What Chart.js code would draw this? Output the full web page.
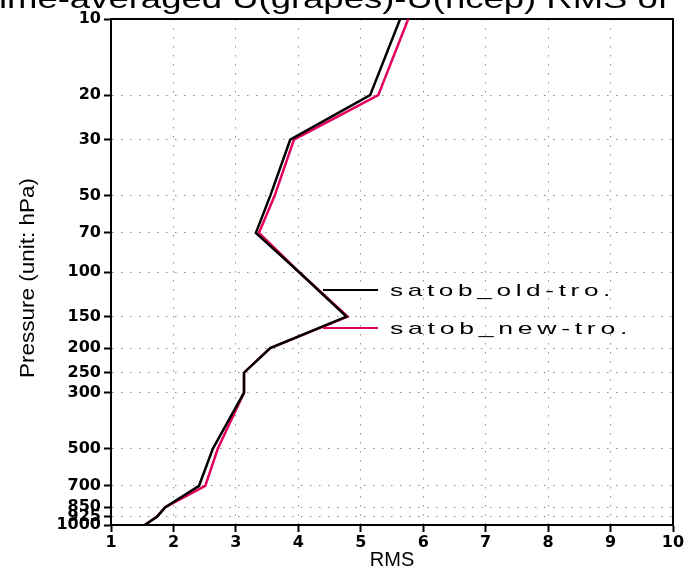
<!DOCTYPE html>
<html>
<head>
<meta charset="utf-8">
<script src="https://cdn.jsdelivr.net/npm/chart.js@4/dist/chart.umd.min.js"></script>
<style>
  html, body { margin: 0; padding: 0; background: #fff; }
  #wrap { width: 688px; height: 572px; }
</style>
</head>
<body>
<div id="wrap"><canvas id="c" width="688" height="572"></canvas></div>
<script>
// Vertical profile of RMS against pressure level
const pressureLevels = [10, 20, 30, 50, 70, 100, 150, 200, 250, 300, 500, 700, 850, 925, 1000];
const rmsOld = [5.63, 5.15, 3.87, 3.55, 3.32, 4.01, 4.77, 3.55, 3.13, 3.13, 2.63, 2.41, 1.87, 1.74, 1.54];
const rmsNew = [5.76, 5.28, 3.93, 3.62, 3.37, 4.01, 4.79, 3.55, 3.13, 3.13, 2.71, 2.51, 1.87, 1.74, 1.54];
const pressureTicks = [10, 20, 30, 50, 70, 100, 150, 200, 250, 300, 500, 700, 850, 925, 1000];
const rmsTicks = [1, 2, 3, 4, 5, 6, 7, 8, 9, 10];
const seriesNames = ['satob_old-tro.', 'satob_new-tro.'];
const seriesColors = ['#000000', '#e3005f'];
const titleText = 'Time-averaged U(grapes)-U(ncep) RMS of';

const toPoints = vals => vals.map((v, i) => ({ x: v, y: pressureLevels[i] }));

const tickFont = { family: 'DejaVu Sans', size: 16, weight: 'bold' };
const gridStyle = {
  color: '#8c8c8c',
  lineWidth: 1,
  tickColor: '#000',
  tickLength: 7,
  tickWidth: 2,
  tickBorderDash: [20, 0]
};
const borderStyle = { color: '#000', width: 2, dash: [1.5, 7.5] };

// draw a string squeezed or stretched to a given width
function fitText(ctx, text, x, y, width) {
  const w = ctx.measureText(text).width;
  ctx.save();
  ctx.translate(x, y);
  ctx.scale(width / w, 1);
  ctx.fillText(text, 0, 0);
  ctx.restore();
}

// Frame, cropped title, y-axis caption and inline legend
const decorations = {
  id: 'decorations',
  beforeDatasetsDraw(chart) {
    const { ctx, chartArea: a } = chart;
    ctx.save();
    ctx.strokeStyle = '#000';
    ctx.lineWidth = 2;
    ctx.setLineDash([]);
    ctx.strokeRect(a.left, a.top, a.right - a.left, a.bottom - a.top);
    ctx.restore();
  },
  afterDatasetsDraw(chart) {
    const { ctx, chartArea: a } = chart;
    ctx.save();
    ctx.fillStyle = '#000';
    ctx.textBaseline = 'alphabetic';
    ctx.textAlign = 'left';
    // title, wider than the canvas
    ctx.font = '27px "Liberation Sans"';
    fitText(ctx, titleText, -22, 8, 690);
    // y-axis caption
    ctx.save();
    ctx.translate(34, 378);
    ctx.rotate(-Math.PI / 2);
    ctx.font = '20px "Liberation Sans"';
    fitText(ctx, 'Pressure (unit: hPa)', 0, 0, 200);
    ctx.restore();
    // legend
    ctx.font = '17px "Liberation Sans"';
    chart.data.datasets.forEach((ds, i) => {
      const y = a.top + 271 + i * 38;
      const x0 = a.left + 212;
      ctx.strokeStyle = ds.borderColor;
      ctx.lineWidth = 2;
      ctx.beginPath();
      ctx.moveTo(x0, y);
      ctx.lineTo(x0 + 55, y);
      ctx.stroke();
      ctx.letterSpacing = '3px';
      const target = i === 0 ? 225 : 242;
      fitText(ctx, ds.label, x0 + 67, y + 6, target);
    });
    ctx.restore();
  }
};

new Chart(document.getElementById('c'), {
  type: 'scatter',
  data: {
    datasets: [rmsOld, rmsNew].map((vals, i) => ({
      label: seriesNames[i],
      data: toPoints(vals),
      showLine: true,
      borderColor: seriesColors[i],
      backgroundColor: seriesColors[i],
      borderWidth: 2.5,
      pointRadius: 0,
      tension: 0
    }))
  },
  options: {
    responsive: false,
    animation: false,
    layout: { padding: { top: 19, right: 15, left: 0, bottom: 0 } },
    plugins: { legend: { display: false }, tooltip: { enabled: false }, title: { display: false } },
    scales: {
      x: {
        type: 'linear',
        min: 1,
        max: 10,
        afterBuildTicks: s => { s.ticks = rmsTicks.map(v => ({ value: v })); },
        afterFit: s => { s.height = 47; },
        ticks: { font: tickFont, color: '#000', padding: 1, autoSkip: false, maxRotation: 0, callback: v => String(v) },
        grid: gridStyle,
        border: borderStyle,
        title: { display: true, text: 'RMS', color: '#000', font: { family: 'Liberation Sans', size: 20 }, padding: { top: 0, bottom: 0 } }
      },
      y: {
        type: 'logarithmic',
        reverse: true,
        min: 10,
        max: 1000,
        afterBuildTicks: s => { s.ticks = pressureTicks.map(v => ({ value: v })); },
        afterFit: s => { s.width = 111; },
        ticks: { font: tickFont, color: '#000', padding: 3, autoSkip: false, callback: v => String(v) },
        grid: gridStyle,
        border: borderStyle
      }
    }
  },
  plugins: [decorations]
});
</script>
</body>
</html>
